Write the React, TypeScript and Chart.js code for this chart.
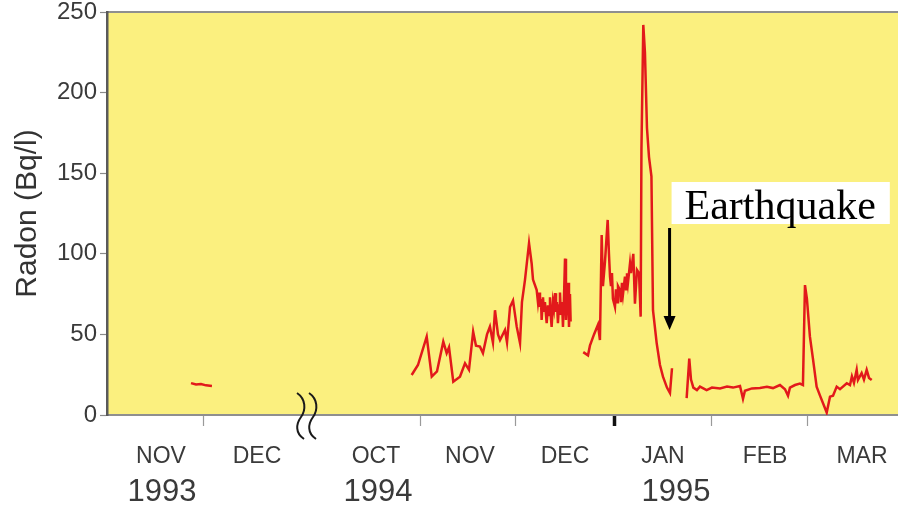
import React, { useEffect, useRef } from "react";
import { Chart, registerables } from "chart.js";

Chart.register(...registerables);

// ---- Axis labels (x positions are in "month units": each month = 1, gap 1994 break) ----
const MONTH_LABELS = ["NOV", "DEC", "OCT", "NOV", "DEC", "JAN", "FEB", "MAR"];
const MONTH_CENTERS = [0.557, 1.546, 2.773, 3.742, 4.722, 5.732, 6.784, 7.784];
const YEAR_LABELS = ["1993", "1994", "1995"];
const YEAR_CENTERS = [0.567, 2.794, 5.866];
const MONTH_BOUNDARIES = [1, 3.227, 4.216, 5.237, 6.237, 7.227];
const YEAR_BOUNDARY = 5.237;
const X_MAX = 8.155;
const Y_TICKS = [0, 50, 100, 150, 200, 250];

// ---- Series: radon (Bq/l) readings, segments separated by data gaps ----
const seg1X = [0.866, 0.918, 0.969, 1.021, 1.082];
const seg1Y = [19.8, 18.9, 19.2, 18.4, 18.0];

const seg2X = [
  3.141, 3.206, 3.296, 3.348, 3.402, 3.467, 3.502, 3.526, 3.570, 3.639,
  3.691, 3.732, 3.775, 3.804, 3.845, 3.876, 3.918, 3.948, 3.979, 4.0,
  4.031, 4.052, 4.103, 4.124, 4.155, 4.186, 4.224, 4.258, 4.278, 4.309,
  4.351, 4.378, 4.392, 4.430, 4.443, 4.454, 4.464, 4.474, 4.481, 4.495,
  4.505, 4.515, 4.533, 4.546, 4.557, 4.567, 4.577, 4.584, 4.598, 4.608,
  4.619, 4.629, 4.639, 4.649, 4.660, 4.670, 4.680, 4.691, 4.701, 4.711,
  4.722, 4.732, 4.742, 4.753, 4.763, 4.773, 4.780,
];
const seg2Y = [
  24.8, 31, 48.6, 23.8, 27, 45.5, 38.4, 42, 20.7, 23.8,
  32, 28, 51.7, 43, 42.4, 38.4, 50, 54.8, 45, 65,
  50, 46.5, 52.7, 45, 67, 71, 54.8, 44.6, 70, 83.7,
  106.6, 94, 84, 77.5, 70, 76, 67, 72, 59, 73,
  64, 70, 57, 68, 62, 73, 60, 54.6, 70, 66,
  75.6, 64, 70, 57, 68, 76, 62, 70, 54.6, 72,
  97, 59, 74, 82, 54.6, 75, 58,
];

const seg3X = [
  4.910, 4.959, 4.979, 5.021, 5.062, 5.082, 5.100, 5.113, 5.134, 5.162,
  5.175, 5.186, 5.196, 5.206, 5.216, 5.237, 5.247, 5.258, 5.268, 5.289,
  5.299, 5.309, 5.320, 5.340, 5.351, 5.361, 5.371, 5.392, 5.402, 5.426,
  5.443, 5.464, 5.485, 5.502, 5.510, 5.529, 5.546, 5.567, 5.588, 5.613,
  5.629, 5.667, 5.701, 5.732, 5.773, 5.804, 5.825,
];
const seg3Y = [
  39, 37, 43, 50, 56, 46.5, 111.7, 80, 95, 121,
  100, 85.8, 80, 88, 72, 67, 78, 70, 80, 77.5,
  70, 82, 75, 85.8, 78, 88, 82, 94, 88, 100,
  69, 90, 88, 61, 165, 242, 225, 178, 160, 148,
  65, 44.6, 31, 23.8, 17, 13.6, 29,
];

const seg4X = [
  5.976, 6.003, 6.021, 6.045, 6.082, 6.113, 6.182, 6.237, 6.320, 6.392,
  6.454, 6.526, 6.557, 6.577, 6.649, 6.732, 6.804, 6.866, 6.938, 6.990,
  7.021, 7.041, 7.093, 7.144, 7.175, 7.196, 7.216, 7.247, 7.278, 7.316,
  7.351, 7.420, 7.454, 7.485, 7.523, 7.557, 7.627, 7.660, 7.680, 7.701,
  7.729, 7.742, 7.780, 7.804, 7.832, 7.856, 7.884,
];
const seg4Y = [
  10.5, 35, 22, 17, 15.5, 17.6, 15.5, 17, 16.5, 17.6,
  17, 18, 10, 15, 16.5, 16.7, 17.5, 16.7, 18.6, 16,
  12, 17, 18.6, 19.5, 18.6, 80.6, 72, 48.6, 35, 17.6,
  12, 1.5, 11.4, 12, 17.6, 16, 19.7, 18.6, 24, 20,
  28, 21.7, 26, 22, 28, 23, 21.7,
];

// ---- Annotation ----
const EQ_TEXT = "Earthquake";
const EQ_X = 5.80;
const EQ_ARROW_FROM = 116;
const EQ_ARROW_TO = 52.7;
const BREAK_X = 2.062;

function buildSeries() {
  const segs = [
    [seg1X, seg1Y],
    [seg2X, seg2Y],
    [seg3X, seg3Y],
    [seg4X, seg4Y],
  ];
  const out: { x: number; y: number | null }[] = [];
  segs.forEach(([xs, ys], si) => {
    if (si > 0) out.push({ x: (xs[0] as number) - 0.01, y: null });
    xs.forEach((x, i) => out.push({ x, y: ys[i] }));
  });
  return out;
}

const TICK_COLOR = "#3a3a3a";
const SANS = '"Liberation Sans", Arial, sans-serif';

const bgPlugin = {
  id: "bg",
  beforeDraw(chart: any) {
    const { ctx, chartArea: a } = chart;
    ctx.save();
    ctx.fillStyle = "#ffffff";
    ctx.fillRect(0, 0, chart.width, chart.height);
    ctx.fillStyle = "#FBF07F";
    ctx.fillRect(a.left, a.top, a.right - a.left, a.bottom - a.top);
    ctx.strokeStyle = "#8f8f8f";
    ctx.lineWidth = 2;
    ctx.beginPath();
    ctx.moveTo(a.left, a.top);
    ctx.lineTo(a.right, a.top);
    ctx.stroke();
    ctx.restore();
  },
};

const annotPlugin = {
  id: "annot",
  afterDraw(chart: any) {
    const { ctx } = chart;
    const xs = chart.scales.x;
    const ys = chart.scales.y;
    ctx.save();
    // axis break squiggles
    const bx = xs.getPixelForValue(BREAK_X);
    const yb = ys.getPixelForValue(0);
    ctx.strokeStyle = "#1a1a1a";
    ctx.lineWidth = 2;
    [bx - 6, bx + 6].forEach((x0) => {
      ctx.beginPath();
      ctx.moveTo(x0 - 4, yb - 22);
      ctx.bezierCurveTo(x0 + 5, yb - 16, x0 + 5, yb - 5, x0, yb + 2);
      ctx.bezierCurveTo(x0 - 5, yb + 9, x0 - 6, yb + 18, x0 + 3, yb + 24);
      ctx.stroke();
    });
    // arrow
    const ax = xs.getPixelForValue(EQ_X);
    const a1 = ys.getPixelForValue(EQ_ARROW_FROM);
    const a2 = ys.getPixelForValue(EQ_ARROW_TO);
    ctx.strokeStyle = "#000";
    ctx.fillStyle = "#000";
    ctx.lineWidth = 3;
    ctx.beginPath();
    ctx.moveTo(ax, a1);
    ctx.lineTo(ax, a2 - 10);
    ctx.stroke();
    ctx.beginPath();
    ctx.moveTo(ax - 6, a2 - 14);
    ctx.lineTo(ax + 6, a2 - 14);
    ctx.lineTo(ax, a2);
    ctx.closePath();
    ctx.fill();
    // label box
    ctx.font = '42px "Liberation Serif", "Times New Roman", serif';
    const tw = ctx.measureText(EQ_TEXT).width;
    const boxL = ax + 2;
    const boxT = a1 - 46;
    ctx.fillStyle = "#fff";
    ctx.fillRect(boxL, boxT, tw + 27, 42);
    ctx.fillStyle = "#000";
    ctx.textBaseline = "alphabetic";
    ctx.fillText(EQ_TEXT, boxL + 13, boxT + 37);
    ctx.restore();
  },
};

export default function App() {
  const ref = useRef<HTMLCanvasElement>(null);
  useEffect(() => {
    if (!ref.current) return;
    const chart = new Chart(ref.current, {
      type: "line",
      data: {
        datasets: [
          {
            data: buildSeries() as any,
            borderColor: "#E2191B",
            borderWidth: 2.5,
            pointRadius: 0,
            spanGaps: false,
            tension: 0,
            xAxisID: "x",
            yAxisID: "y",
          },
        ],
      },
      options: {
        animation: false,
        responsive: false,
        layout: { padding: { top: 12, left: 0, right: 0, bottom: 0 } },
        plugins: { legend: { display: false }, tooltip: { enabled: false } },
        scales: {
          x: {
            type: "linear",
            position: "bottom",
            weight: 0,
            min: 0,
            max: X_MAX,
            afterBuildTicks: (s: any) => {
              s.ticks = MONTH_BOUNDARIES.map((v) => ({ value: v }));
            },
            ticks: { display: false },
            grid: {
              display: true,
              drawOnChartArea: false,
              drawTicks: true,
              tickLength: 11,
              tickWidth: (c: any) => (c.tick && c.tick.value === YEAR_BOUNDARY ? 3.5 : 1.2),
              tickColor: (c: any) => (c.tick && c.tick.value === YEAR_BOUNDARY ? "#111" : "#9a9a9a"),
            },
            border: { display: true, color: "#8f8f8f", width: 2 },
            afterFit: (s: any) => {
              s.height = 14;
              s.paddingLeft = 0;
              s.paddingRight = 0;
            },
          },
          xMonth: {
            type: "linear",
            position: "bottom",
            weight: 1,
            min: 0,
            max: X_MAX,
            afterBuildTicks: (s: any) => {
              s.ticks = MONTH_CENTERS.map((v) => ({ value: v }));
            },
            ticks: {
              autoSkip: false,
              maxRotation: 0,
              padding: 14,
              color: TICK_COLOR,
              font: { family: SANS, size: 23 },
              callback: (_v: any, i: number) => MONTH_LABELS[i],
            },
            grid: { display: false, drawTicks: false },
            border: { display: false },
            afterFit: (s: any) => {
              s.height = 36;
              s.paddingLeft = 0;
              s.paddingRight = 0;
            },
          },
          xYear: {
            type: "linear",
            position: "bottom",
            weight: 2,
            min: 0,
            max: X_MAX,
            afterBuildTicks: (s: any) => {
              s.ticks = YEAR_CENTERS.map((v) => ({ value: v }));
            },
            ticks: {
              autoSkip: false,
              maxRotation: 0,
              padding: 9,
              color: TICK_COLOR,
              font: { family: SANS, size: 31 },
              callback: (_v: any, i: number) => YEAR_LABELS[i],
            },
            grid: { display: false, drawTicks: false },
            border: { display: false },
            afterFit: (s: any) => {
              s.height = 47;
              s.paddingLeft = 0;
              s.paddingRight = 0;
            },
          },
          y: {
            type: "linear",
            position: "left",
            min: 0,
            max: 250,
            afterBuildTicks: (s: any) => {
              s.ticks = Y_TICKS.map((v) => ({ value: v }));
            },
            ticks: {
              padding: 3,
              color: TICK_COLOR,
              font: { family: SANS, size: 24 },
            },
            grid: {
              display: true,
              drawOnChartArea: false,
              tickLength: 7,
              tickColor: "#8a8a8a",
              tickWidth: 1.2,
            },
            border: { display: true, color: "#5a5a5a", width: 2.5 },
            title: {
              display: true,
              text: "Radon (Bq/l)",
              color: "#333",
              font: { family: SANS, size: 30 },
              padding: { top: 10, bottom: 0 },
            },
            afterFit: (s: any) => {
              s.width = 107;
              s.paddingTop = 0;
              s.paddingBottom = 0;
            },
          },
        },
      },
      plugins: [bgPlugin, annotPlugin],
    });
    return () => chart.destroy();
  }, []);
  return (
    <div style={{ position: "absolute", left: 0, top: 0, width: 898, height: 512, background: "#fff" }}>
      <canvas ref={ref} width={898} height={512} style={{ display: "block" }} />
    </div>
  );
}
